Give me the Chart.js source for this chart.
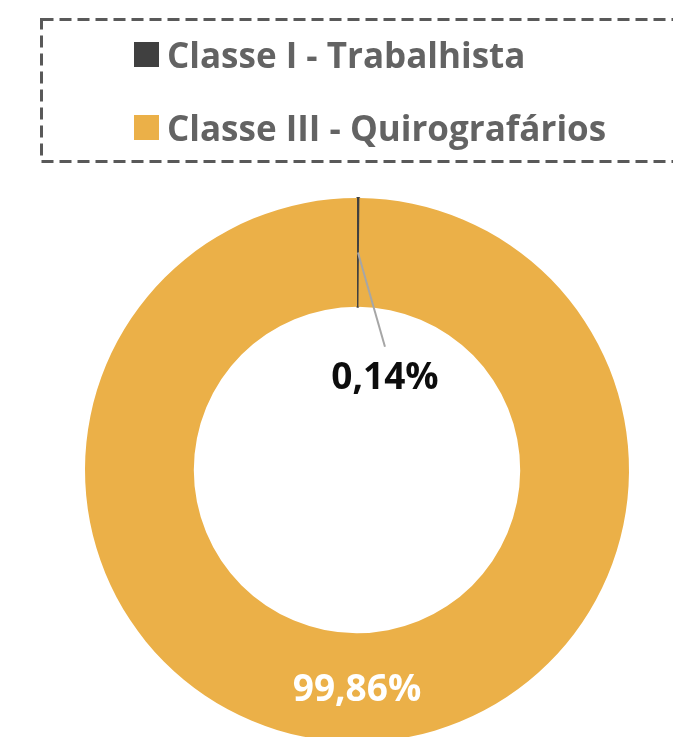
<!DOCTYPE html>
<html>
<head>
<meta charset="utf-8">
<script src="https://cdn.jsdelivr.net/npm/chart.js@4/dist/chart.umd.min.js"></script>
<style>
  html, body { margin: 0; padding: 0; background: #fff; overflow: hidden; }
  #wrap { position: relative; width: 673px; height: 760px; }
  #legend {
    position: absolute; left: 40px; top: 18px; width: 660px; height: 142px;
    font-family: "Open Sans", sans-serif; font-weight: bold; font-size: 35px; color: #636363;
  }
  .item { position: absolute; left: 94px; display: flex; align-items: center; white-space: nowrap; }
  .sw { width: 25px; height: 25px; margin-right: 8px; }
</style>
</head>
<body>
<div id="wrap">
  <canvas id="pie" width="673" height="760"></canvas>
  <div id="legend"></div>
</div>
<script>
const categories = ["Classe I - Trabalhista", "Classe III - Quirografários"];
const shares = [0.14, 99.86];
const labelsText = ["0,14%", "99,86%"];
const colors = ["#404040", "#EBB048"];

// legend (html text, dashed box drawn on the canvas)
const legendRef = document.getElementById("legend");
categories.forEach(function (name, i) {
  const item = document.createElement("div");
  item.className = "item";
  item.style.top = (i === 0 ? 13 : 86) + "px";
  item.innerHTML = '<span class="sw" style="background:' + colors[i] + '"></span>' + name;
  legendRef.appendChild(item);
});

const boxPlugin = {
  id: "legendBox",
  beforeDraw(chart) {
    const ctx = chart.ctx;
    ctx.save();
    ctx.strokeStyle = "#595959";
    ctx.lineWidth = 3;
    ctx.setLineDash([12, 6]);
    ctx.strokeRect(41.5, 19.5, 700, 142);
    ctx.restore();
  },
};

// percentage labels drawn from arc geometry
const labelPlugin = {
  id: "pctLabels",
  afterDatasetsDraw(chart) {
    const ctx = chart.ctx;
    const arcs = chart.getDatasetMeta(0).data;
    ctx.save();
    ctx.font = "bold 37px 'Open Sans', sans-serif";
    ctx.textAlign = "center";
    ctx.textBaseline = "middle";

    // small slice: leader line into the hole
    const a = arcs[0].getProps(["x", "y", "innerRadius", "outerRadius", "startAngle", "endAngle"], true);
    const mid = (a.startAngle + a.endAngle) / 2;
    const r = (a.innerRadius + a.outerRadius) / 2;
    const sx = a.x + Math.cos(mid) * r;
    const sy = a.y + Math.sin(mid) * r;
    const ex = sx + 27;
    const ey = a.y - a.innerRadius + 40;
    ctx.strokeStyle = "#a6a6a6";
    ctx.lineWidth = 2;
    ctx.beginPath();
    ctx.moveTo(sx, sy);
    ctx.lineTo(ex, ey);
    ctx.stroke();
    ctx.fillStyle = "#0d0d0d";
    ctx.fillText(labelsText[0], ex, ey + 32);

    // big slice label at its centre point
    const b = arcs[1].getProps(["x", "y", "innerRadius", "outerRadius"], true);
    ctx.fillStyle = "#ffffff";
    ctx.fillText(labelsText[1], b.x, b.y + (b.innerRadius + b.outerRadius) / 2 + 3);
    ctx.restore();
  },
};

new Chart(document.getElementById("pie"), {
  type: "doughnut",
  data: {
    labels: categories,
    datasets: [
      {
        data: shares,
        backgroundColor: colors,
        borderColor: ["#404040", "#EBB048"],
        borderWidth: [2, 0],
      },
    ],
  },
  options: {
    responsive: false,
    animation: false,
    cutout: "60%",
    layout: { padding: { left: 84, right: 43, top: 197, bottom: 17 } },
    plugins: { legend: { display: false }, tooltip: { enabled: false } },
  },
  plugins: [boxPlugin, labelPlugin],
});
</script>
</body>
</html>
